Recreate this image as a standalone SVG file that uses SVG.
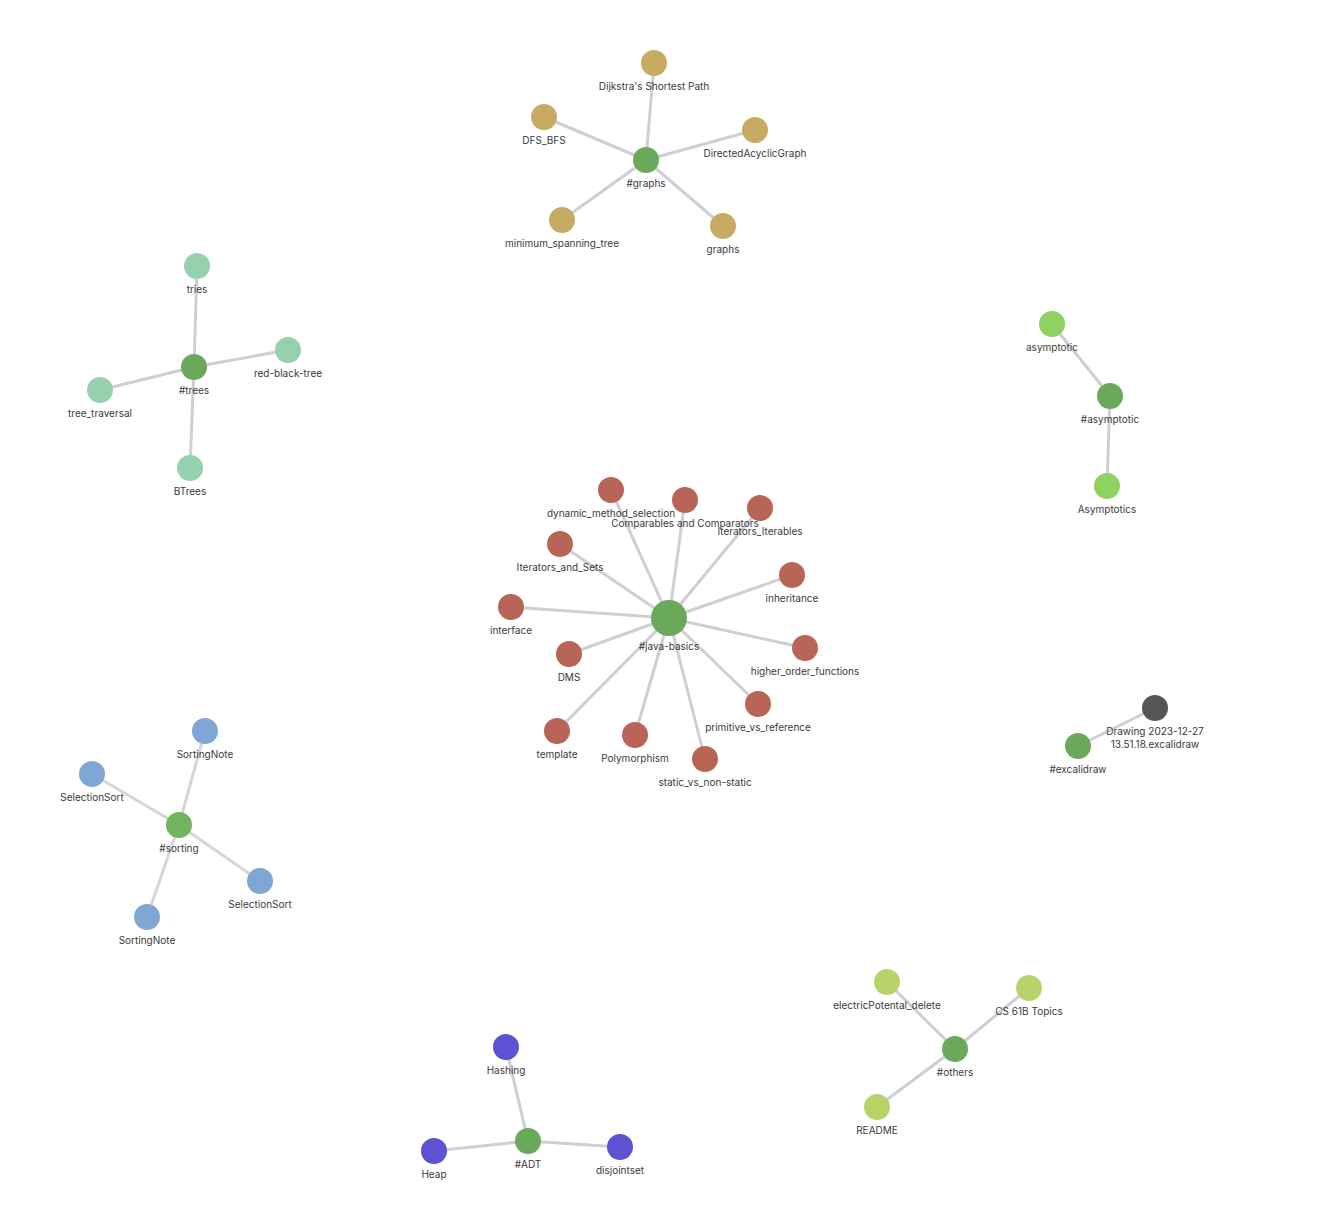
<svg xmlns="http://www.w3.org/2000/svg" width="1323" height="1223" viewBox="0 0 1323 1223">
<style>
.e{stroke:#cfcdd7;stroke-width:3;fill:none}
.es{stroke:#d6d6d6;stroke-width:3;fill:none}
text{font-family:Inter,"Noto Sans",sans-serif;font-size:10px;fill:#3a3a3a;text-anchor:middle}
.hub{fill:#6aa85a}
.g{fill:#c8ab62}
.t{fill:#95d1ae}
.j{fill:#b86456}
.s{fill:#80a6d6}
.a{fill:#5c52d2}
.o{fill:#b7d46a}
.y{fill:#8fd262}
.d{fill:#555555}
</style>
<rect width="1323" height="1223" fill="#ffffff"/>
<g id="connectors">
<line class="e" x1="646" y1="160" x2="654" y2="63"/>
<line class="e" x1="646" y1="160" x2="544" y2="117"/>
<line class="e" x1="646" y1="160" x2="755" y2="130"/>
<line class="e" x1="646" y1="160" x2="562" y2="220"/>
<line class="e" x1="646" y1="160" x2="723" y2="226"/>
<line class="e" x1="194" y1="367" x2="197" y2="266"/>
<line class="e" x1="194" y1="367" x2="288" y2="350"/>
<line class="e" x1="194" y1="367" x2="100" y2="390"/>
<line class="e" x1="194" y1="367" x2="190" y2="468"/>
<line class="e" x1="1110" y1="396" x2="1052" y2="324"/>
<line class="e" x1="1110" y1="396" x2="1107" y2="486"/>
<line class="e" x1="669" y1="618" x2="611" y2="490"/>
<line class="e" x1="669" y1="618" x2="685" y2="500"/>
<line class="e" x1="669" y1="618" x2="760" y2="508"/>
<line class="e" x1="669" y1="618" x2="560" y2="544"/>
<line class="e" x1="669" y1="618" x2="792" y2="575"/>
<line class="e" x1="669" y1="618" x2="511" y2="607"/>
<line class="e" x1="669" y1="618" x2="569" y2="654"/>
<line class="e" x1="669" y1="618" x2="805" y2="648"/>
<line class="e" x1="669" y1="618" x2="758" y2="704"/>
<line class="e" x1="669" y1="618" x2="557" y2="731"/>
<line class="e" x1="669" y1="618" x2="635" y2="735"/>
<line class="e" x1="669" y1="618" x2="705" y2="759"/>
<line class="e" x1="1078" y1="746" x2="1155" y2="708"/>
<line class="es" x1="179" y1="825" x2="205" y2="731"/>
<line class="es" x1="179" y1="825" x2="92" y2="774"/>
<line class="es" x1="179" y1="825" x2="260" y2="881"/>
<line class="es" x1="179" y1="825" x2="147" y2="917"/>
<line class="e" x1="955" y1="1049" x2="887" y2="982"/>
<line class="e" x1="955" y1="1049" x2="1029" y2="988"/>
<line class="e" x1="955" y1="1049" x2="877" y2="1107"/>
<line class="e" x1="528" y1="1141" x2="506" y2="1047"/>
<line class="e" x1="528" y1="1141" x2="434" y2="1151"/>
<line class="e" x1="528" y1="1141" x2="620" y2="1147"/>
</g>
<g id="graphs"><circle class="hub" cx="646" cy="160" r="13"/><text x="646" y="187">#graphs</text></g>
<g id="dijkstra"><circle class="g" cx="654" cy="63" r="13"/><text x="654" y="90">Dijkstra's Shortest Path</text></g>
<g id="dfs_bfs"><circle class="g" cx="544" cy="117" r="13"/><text x="544" y="144">DFS_BFS</text></g>
<g id="dag"><circle class="g" cx="755" cy="130" r="13"/><text x="755" y="157">DirectedAcyclicGraph</text></g>
<g id="mst"><circle class="g" cx="562" cy="220" r="13"/><text x="562" y="247">minimum_spanning_tree</text></g>
<g id="graphs_note"><circle class="g" cx="723" cy="226" r="13"/><text x="723" y="253">graphs</text></g>

<g id="trees"><circle class="hub" cx="194" cy="367" r="13"/><text x="194" y="394">#trees</text></g>
<g id="tries"><circle class="t" cx="197" cy="266" r="13"/><text x="197" y="293">tries</text></g>
<g id="rbt"><circle class="t" cx="288" cy="350" r="13"/><text x="288" y="377">red-black-tree</text></g>
<g id="tree_traversal"><circle class="t" cx="100" cy="390" r="13"/><text x="100" y="417">tree_traversal</text></g>
<g id="btrees"><circle class="t" cx="190" cy="468" r="13"/><text x="190" y="495">BTrees</text></g>

<g id="asymptotic_hub"><circle class="hub" cx="1110" cy="396" r="13"/><text x="1110" y="423">#asymptotic</text></g>
<g id="asymptotic"><circle class="y" cx="1052" cy="324" r="13"/><text x="1052" y="351">asymptotic</text></g>
<g id="asymptotics"><circle class="y" cx="1107" cy="486" r="13"/><text x="1107" y="513">Asymptotics</text></g>

<g id="java_basics"><circle class="hub" cx="669" cy="618" r="18"/><text x="669" y="650">#java-basics</text></g>
<g id="dms_sel"><circle class="j" cx="611" cy="490" r="13"/><text x="611" y="517">dynamic_method_selection</text></g>
<g id="comparables"><circle class="j" cx="685" cy="500" r="13"/><text x="685" y="527">Comparables and Comparators</text></g>
<g id="iter_iterables"><circle class="j" cx="760" cy="508" r="13"/><text x="760" y="535">Iterators_Iterables</text></g>
<g id="iter_sets"><circle class="j" cx="560" cy="544" r="13"/><text x="560" y="571">Iterators_and_Sets</text></g>
<g id="inheritance"><circle class="j" cx="792" cy="575" r="13"/><text x="792" y="602">inheritance</text></g>
<g id="interface"><circle class="j" cx="511" cy="607" r="13"/><text x="511" y="634">interface</text></g>
<g id="dms"><circle class="j" cx="569" cy="654" r="13"/><text x="569" y="681">DMS</text></g>
<g id="hof"><circle class="j" cx="805" cy="648" r="13"/><text x="805" y="675">higher_order_functions</text></g>
<g id="pvr"><circle class="j" cx="758" cy="704" r="13"/><text x="758" y="731">primitive_vs_reference</text></g>
<g id="template"><circle class="j" cx="557" cy="731" r="13"/><text x="557" y="758">template</text></g>
<g id="poly"><circle class="j" cx="635" cy="735" r="13"/><text x="635" y="762">Polymorphism</text></g>
<g id="static"><circle class="j" cx="705" cy="759" r="13"/><text x="705" y="786">static_vs_non-static</text></g>

<g id="excalidraw"><circle class="hub" cx="1078" cy="746" r="13"/><text x="1078" y="773">#excalidraw</text></g>
<g id="drawing"><circle class="d" cx="1155" cy="708" r="13"/><text x="1155" y="735">Drawing 2023-12-27</text><text x="1155" y="748">13.51.18.excalidraw</text></g>

<g id="sorting"><circle cx="179" cy="825" r="13" fill="#72b35f"/><text x="179" y="852">#sorting</text></g>
<g id="sortingnote1"><circle class="s" cx="205" cy="731" r="13"/><text x="205" y="758">SortingNote</text></g>
<g id="selsort1"><circle class="s" cx="92" cy="774" r="13"/><text x="92" y="801">SelectionSort</text></g>
<g id="selsort2"><circle class="s" cx="260" cy="881" r="13"/><text x="260" y="908">SelectionSort</text></g>
<g id="sortingnote2"><circle class="s" cx="147" cy="917" r="13"/><text x="147" y="944">SortingNote</text></g>

<g id="others"><circle class="hub" cx="955" cy="1049" r="13"/><text x="955" y="1076">#others</text></g>
<g id="electric"><circle class="o" cx="887" cy="982" r="13"/><text x="887" y="1009">electricPotental_delete</text></g>
<g id="cs61b"><circle class="o" cx="1029" cy="988" r="13"/><text x="1029" y="1015">CS 61B Topics</text></g>
<g id="readme"><circle class="o" cx="877" cy="1107" r="13"/><text x="877" y="1134">README</text></g>

<g id="adt"><circle class="hub" cx="528" cy="1141" r="13"/><text x="528" y="1168">#ADT</text></g>
<g id="hashing"><circle class="a" cx="506" cy="1047" r="13"/><text x="506" y="1074">Hashing</text></g>
<g id="heap"><circle class="a" cx="434" cy="1151" r="13"/><text x="434" y="1178">Heap</text></g>
<g id="disjointset"><circle class="a" cx="620" cy="1147" r="13"/><text x="620" y="1174">disjointset</text></g>
</svg>
